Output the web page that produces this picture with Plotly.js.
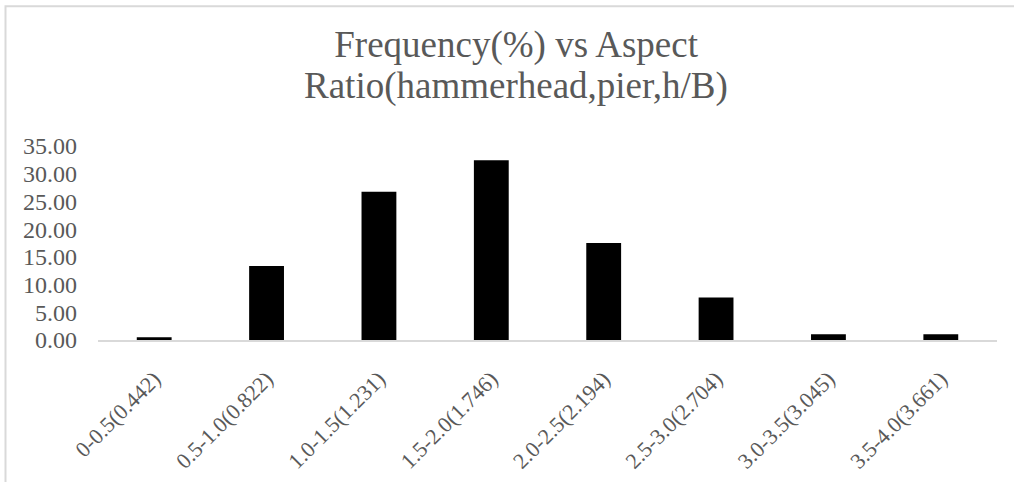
<!DOCTYPE html>
<html>
<head>
<meta charset="utf-8">
<script src="https://cdn.plot.ly/plotly-3.0.1.min.js"></script>
<style>
  html, body { margin: 0; padding: 0; background: #ffffff; }
  #chart { width: 1014px; height: 482px; }
</style>
</head>
<body>
<div id="chart"></div>
<script>
// Aspect ratio bins (mean h/B in brackets) and share of piers in each bin
const categories = [
  "0-0.5(0.442)",
  "0.5-1.0(0.822)",
  "1.0-1.5(1.231)",
  "1.5-2.0(1.746)",
  "2.0-2.5(2.194)",
  "2.5-3.0(2.704)",
  "3.0-3.5(3.045)",
  "3.5-4.0(3.661)"
];
const frequency = [0.51, 13.37, 26.73, 32.45, 17.51, 7.69, 1.02, 1.02];
const yTickValues = [0, 5, 10, 15, 20, 25, 30, 35];
const yTickLabels = yTickValues.map(v => v.toFixed(2));
const titleLines = ["Frequency(%) vs Aspect", "Ratio(hammerhead,pier,h/B)"];

const serif = "'Liberation Serif', 'Times New Roman', serif";
const textGray = "#595959";
const lineGray = "#d9d9d9";
const titleFont = { family: serif, size: 37, color: textGray };

const trace = {
  type: "bar",
  x: categories,
  y: frequency,
  marker: { color: "#000000", line: { color: "#000000", width: 0 } },
  hoverinfo: "x+y"
};

const layout = {
  width: 1014,
  height: 482,
  margin: { l: 98, r: 17, t: 146, b: 142 },
  paper_bgcolor: "#ffffff",
  plot_bgcolor: "#ffffff",
  showlegend: false,
  bargap: 0.69,
  font: { family: serif, color: textGray },
  // first title line is the chart title; the second line sits just below it
  title: {
    text: titleLines[0],
    font: titleFont,
    x: 0.509,
    xref: "container",
    xanchor: "center",
    y: 1 - 57 / 482,
    yref: "container",
    yanchor: "bottom",
    pad: { b: 0 }
  },
  annotations: [{
    text: titleLines[1],
    font: titleFont,
    xref: "paper", yref: "paper",
    x: (516 - 98) / 899,
    y: (340 - 98) / 194.4,
    xanchor: "center",
    yanchor: "bottom",
    yshift: -11,
    showarrow: false
  }],
  xaxis: {
    type: "category",
    tickangle: -45,
    tickfont: { family: serif, size: 22, color: textGray },
    showgrid: false,
    zeroline: false,
    showline: true,
    linecolor: lineGray,
    linewidth: 1.5,
    ticks: "",
    ticklabelstandoff: 16
  },
  yaxis: {
    range: [0, 35],
    tickmode: "array",
    tickvals: yTickValues,
    ticktext: yTickLabels,
    tickfont: { family: serif, size: 24, color: textGray },
    showgrid: false,
    zeroline: false,
    showline: false,
    ticks: "",
    ticklabelstandoff: 20
  },
  shapes: [{
    type: "rect",
    xref: "paper", yref: "paper",
    x0: -0.1029, x1: 1.2,
    y0: -1.2, y1: 1.7207,
    line: { color: lineGray, width: 2 },
    fillcolor: "rgba(0,0,0,0)",
    layer: "below"
  }]
};

Plotly.newPlot("chart", [trace], layout, { displayModeBar: false, staticPlot: true });
</script>
</body>
</html>
